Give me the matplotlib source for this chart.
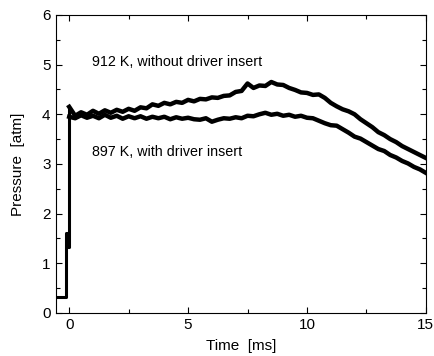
import matplotlib
matplotlib.use('Agg')
import matplotlib.pyplot as plt
from matplotlib.ticker import MultipleLocator

plt.rcParams['font.family'] = ['Liberation Sans', 'DejaVu Sans']

# pre-trigger part, shared by both runs
t_pre = [-0.55, -0.13, -0.13, -0.07, -0.07, 0.0, 0.0]
p_pre = [0.33, 0.33, 1.61, 1.61, 1.33, 1.33, 4.15]

# time grid for the traces [ms]
t = [i * 0.25 for i in range(61)]

# 912 K, without driver insert
p_912 = [4.15, 3.97, 4.04, 3.99, 4.07, 4.01, 4.08, 4.03, 4.09, 4.05,
         4.11, 4.07, 4.14, 4.12, 4.20, 4.17, 4.23, 4.20, 4.25, 4.23,
         4.29, 4.26, 4.31, 4.30, 4.34, 4.33, 4.37, 4.38, 4.45, 4.47,
         4.62, 4.53, 4.58, 4.57, 4.65, 4.60, 4.59, 4.53, 4.49, 4.44,
         4.43, 4.39, 4.40, 4.33, 4.23, 4.16, 4.10, 4.06, 4.00, 3.90,
         3.82, 3.74, 3.64, 3.58, 3.50, 3.44, 3.36, 3.30, 3.24, 3.18,
         3.12]

# 897 K, with driver insert
p_897 = [3.95, 3.92, 3.98, 3.93, 3.97, 3.92, 3.99, 3.93, 3.97, 3.91,
         3.96, 3.92, 3.96, 3.91, 3.95, 3.92, 3.95, 3.90, 3.94, 3.91,
         3.93, 3.90, 3.89, 3.92, 3.85, 3.89, 3.92, 3.91, 3.94, 3.92,
         3.97, 3.96, 4.00, 4.03, 3.99, 4.01, 3.97, 3.99, 3.95, 3.97,
         3.93, 3.92, 3.87, 3.82, 3.78, 3.77, 3.70, 3.63, 3.55, 3.51,
         3.44, 3.37, 3.30, 3.26, 3.18, 3.13, 3.06, 3.01, 2.94, 2.89,
         2.82]

fig = plt.figure(figsize=(4.35, 3.56), dpi=100)
ax = fig.add_axes([0.129, 0.121, 0.850, 0.837])

ax.plot(t_pre, p_pre, color='black', lw=2.2)
ax.plot(t, p_912, color='black', lw=3.2)
ax.plot(t, p_897, color='black', lw=3.2)

ax.text(0.95, 5.05, '912 K, without driver insert', fontsize=10.3, va='center')
ax.text(0.95, 3.25, '897 K, with driver insert', fontsize=10.3, va='center')

ax.set_xlim(-0.55, 15)
ax.set_ylim(0, 6)
ax.xaxis.set_major_locator(MultipleLocator(5))
ax.xaxis.set_minor_locator(MultipleLocator(2.5))
ax.yaxis.set_major_locator(MultipleLocator(1))
ax.yaxis.set_minor_locator(MultipleLocator(0.5))
ax.tick_params(which='both', direction='in', top=True, right=True, labelsize=11)
ax.tick_params(which='major', length=4, width=0.8, pad=4)
ax.tick_params(which='minor', length=3, width=0.8)

ax.set_xlabel('Time  [ms]', fontsize=11, labelpad=5)
ax.set_ylabel('Pressure  [atm]', fontsize=11, labelpad=12)

fig.savefig('out.png', dpi=100)
